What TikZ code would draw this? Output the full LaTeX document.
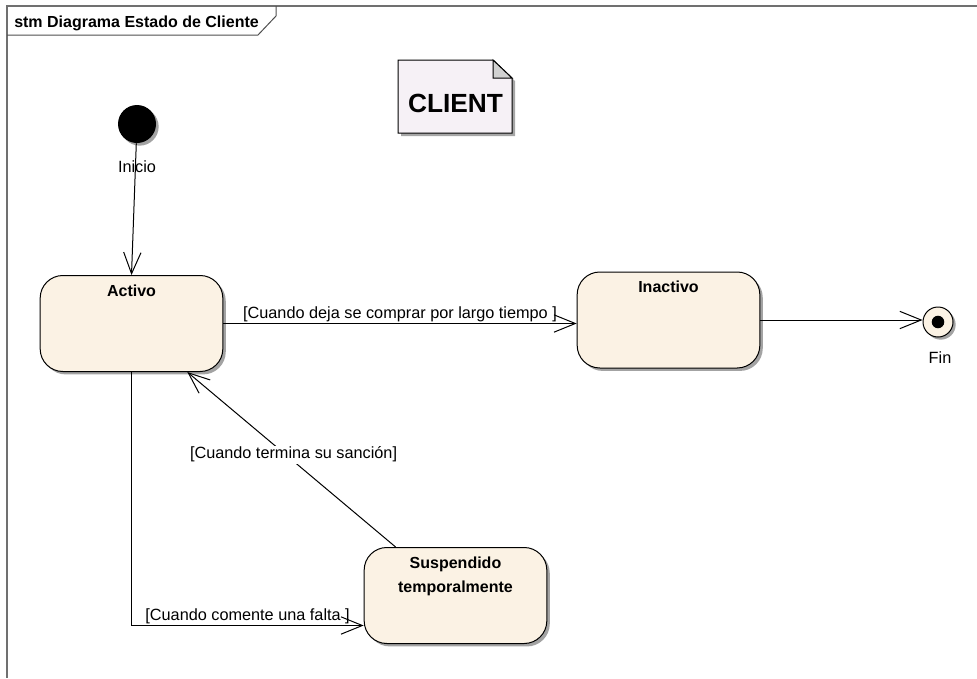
\documentclass[tikz,border=0pt]{standalone}
\usepackage{fontspec}
\setmainfont{Liberation Sans}
\usepackage{tikz}
\usetikzlibrary{positioning}
\usetikzlibrary{arrows.meta, shadows}
\definecolor{statefill}{RGB}{251,242,228}
\definecolor{notefill}{RGB}{246,241,246}
\definecolor{framegray}{RGB}{112,112,112}
\tikzstyle{state} = [rectangle, rounded corners=17pt, minimum width=137pt, minimum height=72pt, draw=black, line width=0.75pt, fill=statefill, drop shadow={shadow xshift=2.2pt, shadow yshift=-2.2pt, fill=black!45, opacity=0.8}]
\tikzstyle{statename} = [font=\bfseries\fontsize{12pt}{18pt}\selectfont, anchor=north, yshift=-5pt, inner sep=2pt]
\tikzstyle{initial} = [circle, minimum size=28.5pt, inner sep=0pt, fill=black, drop shadow={shadow xshift=2pt, shadow yshift=-2pt, fill=black!45, opacity=0.8}]
\tikzstyle{final} = [circle, minimum size=22.5pt, inner sep=0pt, draw=black, line width=0.75pt, fill=statefill, drop shadow={shadow xshift=2pt, shadow yshift=-2pt, fill=black!45, opacity=0.8}]
\tikzstyle{guard} = [font=\fontsize{12.2pt}{14pt}\selectfont, inner sep=1pt]
\tikzstyle{arrow} = [line width=0.75pt, -{Straight Barb[length=16pt, width=13pt]}]

\begin{document}
\begin{tikzpicture}[x=0.75pt, y=-0.75pt]
    \useasboundingbox (0,0) rectangle (977,678);

    % frame and its tab
    \draw [framegray, line width=1.1pt] (977,6) -- (7,6) -- (7,678);
    \draw [framegray!70!black, line width=0.75pt] (7,35) -- (258,35) -- (276,16) -- (276,6);
    \node (frametitle) [anchor=base west, inner sep=0pt, font=\bfseries\fontsize{12pt}{14pt}\selectfont] at (14,27.5) {stm Diagrama Estado de Cliente};

    % note
    \fill [black!35] (401,63) -- (496,63) -- (515,81) -- (515,136) -- (401,136) -- cycle;
    \draw [fill=notefill, line width=0.75pt] (398,60) -- (493,60) -- (512,78) -- (512,133) -- (398,133) -- cycle;
    \draw [fill=black!18, line width=0.75pt] (493,60) -- (493,78) -- (512,78) -- cycle;
    \node (client) [font=\bfseries\fontsize{19.7pt}{22pt}\selectfont] at (455.5,103) {CLIENT};

    % states
    \node (init) [initial] at (137,124) {};
    \node (inicio) [guard] at (137,167) {Inicio};
    \node (activo) [state, label={[statename]north:Activo}] at (131.5,323.5) {};
    \node (inactivo) [state, label={[statename]north:Inactivo}] at (668.5,320) {};
    \node (suspendido) [state, label={[statename, align=center]north:{Suspendido\\temporalmente}}] at (455.5,595.5) {};
    \node (fin) [final] at (938,322) {};
    \node (findot) [circle, fill=black, minimum size=9.4pt, inner sep=0pt] at (fin) {};
    \node (finlabel) [guard] at (940,358) {Fin};

    % transitions
    \draw [arrow] (init) -- (activo.north);
    \draw [arrow] (activo.east) -- (activo.east -| inactivo.west) node [guard, midway, above] {[Cuando deja se comprar por largo tiempo ]};
    \draw [arrow] (inactivo.east) -- (inactivo.east -| fin.west);
    \draw [arrow] (activo.south) |- ([yshift=-22.5pt]suspendido.west) node [guard, pos=0.75, above] {[Cuando comente una falta ]};
    \draw [arrow] (suspendido.141) -- (activo.-41) node [guard, pos=0.49, yshift=5pt, fill=white] {[Cuando termina su sanción]};

\end{tikzpicture}
\end{document}
